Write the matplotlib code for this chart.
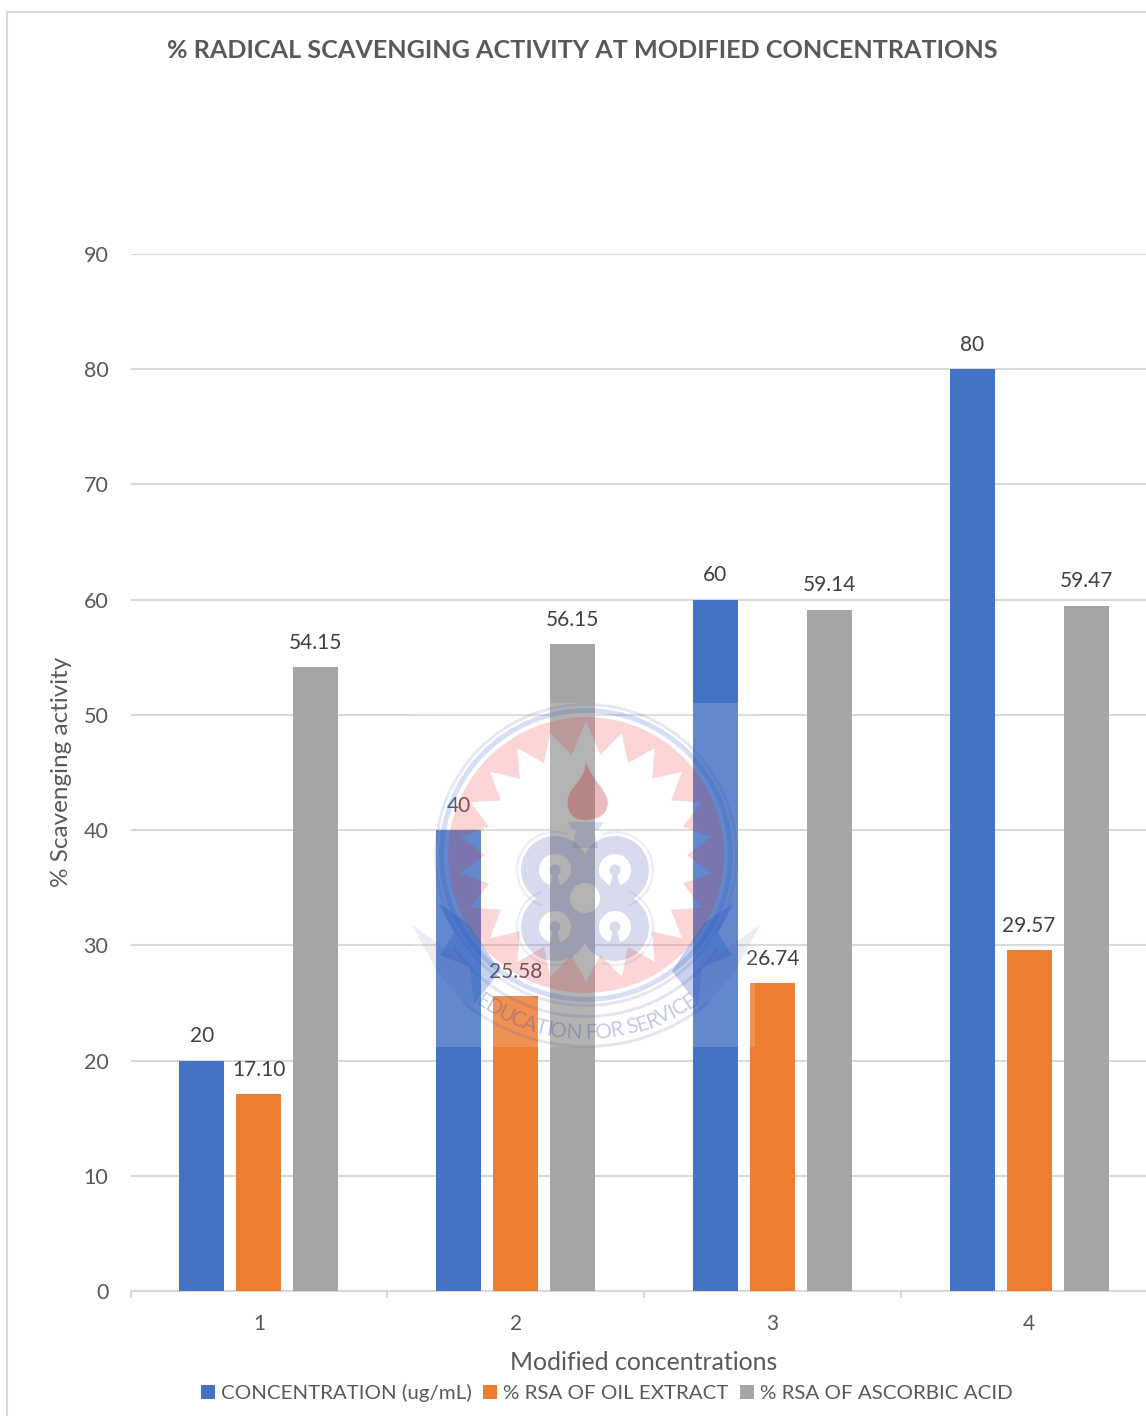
#!/usr/bin/env python
# -*- coding: utf-8 -*-
import numpy as np
import matplotlib
matplotlib.use("Agg")
import matplotlib.pyplot as plt
from matplotlib.font_manager import FontProperties
from matplotlib.patches import Polygon, PathPatch, Rectangle, Wedge
from matplotlib.path import Path

plt.rcParams['font.family'] = ['Lato', 'DejaVu Sans']

categories = [1, 2, 3, 4]
concentration = [20, 40, 60, 80]
rsa_oil = [17.10, 25.58, 26.74, 29.57]
rsa_ascorbic = [54.15, 56.15, 59.14, 59.47]

conc_labels = ["20", "40", "60", "80"]
oil_labels = ["17.10", "25.58", "26.74", "29.57"]
ascorbic_labels = ["54.15", "56.15", "59.14", "59.47"]

series_names = ["CONCENTRATION (ug/mL)", "% RSA OF OIL EXTRACT", "% RSA OF ASCORBIC ACID"]
colors = ["#4472C4", "#ED7D31", "#A5A5A5"]

W, H = 1146, 1416
GRID = "#D9D9D9"
TXT = "#595959"
LILAC = "#3C4BA8"
BLUE = "#1F4FC0"
RED = "#F02020"

bar_w = 0.175
step = 0.222


def add_bars(ax):
    x = np.array(categories)
    groups = [concentration, rsa_oil, rsa_ascorbic]
    labels = [conc_labels, oil_labels, ascorbic_labels]
    for i in range(3):
        pos = x + (i - 1) * step
        ax.bar(pos, groups[i], bar_w, color=colors[i], label=series_names[i], zorder=3)
        for p, v, s in zip(pos, groups[i], labels[i]):
            ax.annotate(s, (p, v), xytext=(0, 17.5), textcoords="offset points",
                        ha="center", va="center", fontsize=15, color="#404040", zorder=4)


def ring(cx, cy, r1, r2, color, alpha, a1=0, a2=360):
    return Wedge((cx, cy), r2, a1, a2, width=r2 - r1, facecolor=color, edgecolor="none", alpha=alpha)


def loop(cx, cy, r, flip=False):
    # closed circle outline, flip winds it the other way so it cuts a hole
    a = np.linspace(0, 2 * np.pi, 65)
    if flip:
        a = a[::-1]
    return Path(np.c_[cx + r * np.cos(a), cy + r * np.sin(a)], closed=True)


def star_disc(cx, cy, r, n=22):
    ang = np.linspace(0, 2 * np.pi, n * 2, endpoint=False) - np.pi / 2
    rad = np.where(np.arange(n * 2) % 2 == 0, 127, 101).astype(float)
    rad[0] = 134
    pts = np.c_[cx + rad * np.cos(ang), cy + rad * np.sin(ang)]
    hole = Path(np.vstack([pts[::-1], pts[-1]]), closed=True)
    return Path.make_compound_path(loop(cx, cy, r), hole)


def clover():
    # four lobes as one shape so overlaps don't darken
    lobes = [(555, 870), (615, 870), (555, 927), (615, 927)]
    parts = [loop(lx, ly, 34) for lx, ly in lobes]
    parts.append(loop(585, 898, 26))
    for lx, ly in lobes:
        parts.append(loop(lx, ly, 16, flip=True))
        parts.append(loop(lx, ly, 5.5))
        stem = [(lx - 2, ly + 4), (lx + 2, ly + 4), (lx + 6, ly + 18), (lx - 6, ly + 18), (lx - 2, ly + 4)]
        parts.append(Path(stem, closed=True))
    return Path.make_compound_path(*parts)


def flame():
    verts = [(586, 762), (592, 782), (612, 792), (607, 808), (604, 818), (592, 820), (584, 820),
             (572, 820), (566, 810), (568, 798), (571, 785), (584, 782), (586, 762)]
    codes = [Path.MOVETO] + [Path.CURVE4] * 12
    return Path(verts, codes)


def add_motto(ov, cx, cy, r):
    # letters set one by one along the lower arc, spaced by their own widths
    motto = "EDUCATION FOR SERVICE"
    prop = FontProperties(family="Lato", size=15)
    rend = ov.figure.canvas.get_renderer()
    widths = []
    for ch in motto:
        w = rend.get_text_width_height_descent(ch, prop, False)[0]
        widths.append(max(w, 5) * 0.9)
    widths = np.array(widths)
    mids = np.cumsum(widths) - widths / 2 - widths.sum() / 2
    for ch, m in zip(motto, mids):
        t = m / r
        ov.text(cx + r * np.sin(t), cy + r * np.cos(t), ch, rotation=np.degrees(t), rotation_mode="anchor",
                ha="center", va="center", fontproperties=prop, color=LILAC, alpha=0.30)


def add_emblem(ov):
    cx, cy = 586, 855
    ov.add_patch(Rectangle((412, 703), 343, 344, facecolor="white", edgecolor="none", alpha=0.16))
    ov.add_patch(PathPatch(star_disc(cx, cy, 138), facecolor=RED, edgecolor="none", alpha=0.18))
    ov.add_patch(ring(cx, cy, 142, 147, BLUE, 0.18))
    ov.add_patch(ring(cx, cy, 149, 152, LILAC, 0.13))

    # ribbon tails either side of the disc
    for sgn in [-1, 1]:
        tail = [(sgn * 174, 70), (sgn * 116, 112), (sgn * 112, 158), (sgn * 148, 118)]
        ov.add_patch(Polygon([(cx + a, cy + b) for a, b in tail], facecolor=LILAC, edgecolor="none", alpha=0.10))
        dark = [(sgn * 148, 48), (sgn * 132, 78), (sgn * 146, 100), (sgn * 116, 112),
                (sgn * 112, 150), (sgn * 86, 116), (sgn * 118, 68)]
        ov.add_patch(Polygon([(cx + a, cy + b) for a, b in dark], facecolor=BLUE, edgecolor="none", alpha=0.26))
    ov.add_patch(ring(cx, cy, 160, 163, LILAC, 0.14, 35, 145))
    ov.add_patch(ring(cx, cy, 190, 193, LILAC, 0.14, 50, 130))

    # torch
    ov.add_patch(PathPatch(flame(), facecolor="#C02020", edgecolor="none", alpha=0.30))
    ov.add_patch(Polygon([(568, 822), (604, 822), (598, 830), (594, 830), (598, 848), (572, 848), (576, 830), (572, 830)],
                         facecolor=LILAC, edgecolor="none", alpha=0.16))

    # clover body with a round opening left in the middle
    body = PathPatch(clover(), facecolor=LILAC, edgecolor="none", alpha=0.20)
    ov.add_patch(body)
    box = Path([(400, 700), (400, 1060), (770, 1060), (770, 700), (400, 700)], closed=True)
    body.set_clip_path(Path.make_compound_path(box, loop(585, 898, 15)), ov.transData)

    ov.add_patch(ring(555, 870, 37, 39, LILAC, 0.10, 110, 290))
    ov.add_patch(ring(615, 870, 37, 39, LILAC, 0.10, 250, 70))
    ov.add_patch(ring(555, 927, 37, 39, LILAC, 0.10, 70, 250))
    ov.add_patch(ring(615, 927, 37, 39, LILAC, 0.10, 290, 110))

    add_motto(ov, cx, cy - 8, 186)


def main():
    fig = plt.figure(figsize=(W / 100, H / 100), dpi=100, facecolor="white")
    left, right, top, bottom = 130.5, 1157.5, 254, 1291
    ax = fig.add_axes([left / W, 1 - bottom / H, (right - left) / W, (bottom - top) / H])

    add_bars(ax)

    ax.set_xlim(0.5, 4.5)
    ax.set_ylim(0, 90)
    ax.set_yticks(range(0, 100, 10))
    ax.set_xticks(categories)
    ax.set_xticks([0.5, 1.5, 2.5, 3.5, 4.5], minor=True)
    ax.tick_params(axis="x", which="major", length=0, labelsize=15, labelcolor=TXT, pad=16.5)
    ax.tick_params(axis="x", which="minor", length=5, width=1.5, color=GRID)
    ax.tick_params(axis="y", length=0, labelsize=15.5, labelcolor=TXT, pad=16)
    ax.grid(axis="y", color=GRID, linewidth=1.5, zorder=0)
    ax.set_axisbelow(True)
    for name in ["top", "right", "left"]:
        ax.spines[name].set_visible(False)
    ax.spines["bottom"].set_color(GRID)
    ax.spines["bottom"].set_linewidth(1.5)

    fig.text(582 / W, 1 - 51 / H, "% RADICAL SCAVENGING ACTIVITY AT MODIFIED CONCENTRATIONS",
             ha="center", va="center", fontsize=18.05, fontweight="bold", color=TXT)
    fig.text(644 / W, 1 - 1362 / H, "Modified concentrations", ha="center", va="center", fontsize=17.9, color=TXT)
    fig.text(62 / W, 1 - 772 / H, "% Scavenging activity", ha="center", va="center",
             rotation=90, fontsize=17.5, color=TXT)

    fig.legend(loc="center", bbox_to_anchor=(607 / W, 1 - 1393 / H), ncol=3, frameon=False,
               fontsize=14.75, labelcolor=TXT, handlelength=0.69, handleheight=0.69,
               handletextpad=0.3, columnspacing=0.55, borderpad=0, borderaxespad=0)

    # overlay in pixel units for the outer frame and the emblem
    ov = fig.add_axes([0, 0, 1, 1], zorder=5)
    ov.set_xlim(0, W)
    ov.set_ylim(H, 0)
    ov.axis("off")
    ov.plot([7, 7, W], [H, 12, 12], color=GRID, linewidth=1.5)
    add_emblem(ov)

    fig.savefig("out.png", dpi=100)
    plt.close(fig)


if __name__ == '__main__':
    main()
